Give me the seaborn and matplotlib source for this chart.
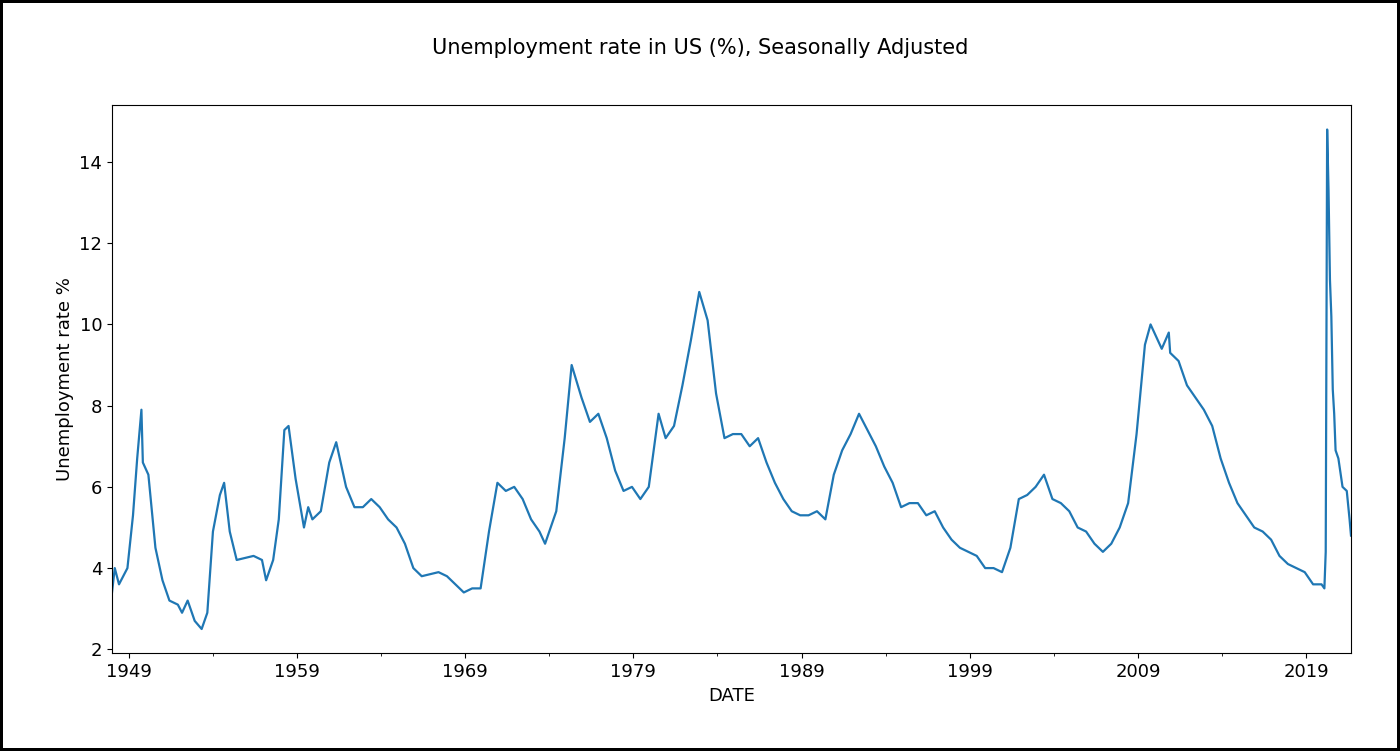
import matplotlib
matplotlib.use("Agg")
import matplotlib.pyplot as plt
import matplotlib.dates as mdates
import seaborn as sb
import pandas as pd

dates = ["1948-01","1948-03","1948-06","1948-12","1949-04","1949-07","1949-10","1949-11","1950-03","1950-08",
 "1951-01","1951-06","1951-12","1952-03","1952-07","1952-12","1953-05","1953-09","1954-01","1954-06","1954-09",
 "1955-01","1955-06","1956-06","1956-12","1957-03","1957-08","1957-12","1958-04","1958-07","1958-12","1959-06",
 "1959-09","1959-12","1960-06","1960-12","1961-05","1961-12","1962-06","1962-12","1963-06","1963-12","1964-06",
 "1964-12","1965-06","1965-12","1966-06","1967-06","1967-12","1968-06","1968-12","1969-06","1969-12","1970-06",
 "1970-12","1971-06","1971-12","1972-06","1972-12","1973-06","1973-10","1974-06","1974-12","1975-05","1975-12",
 "1976-06","1976-12","1977-06","1977-12","1978-06","1978-12","1979-06","1979-12","1980-07","1980-12","1981-06",
 "1981-12","1982-06","1982-12","1983-06","1983-12","1984-06","1984-12","1985-06","1985-12","1986-06","1986-12",
 "1987-06","1987-12","1988-06","1988-12","1989-06","1989-12","1990-06","1990-12","1991-06","1991-12","1992-06",
 "1992-12","1993-06","1993-12","1994-06","1994-12","1995-06","1995-12","1996-06","1996-12","1997-06","1997-12",
 "1998-06","1998-12","1999-06","1999-12","2000-06","2000-12","2001-06","2001-12","2002-06","2002-12","2003-06",
 "2003-12","2004-06","2004-12","2005-06","2005-12","2006-06","2006-12","2007-06","2007-12","2008-06","2008-12",
 "2009-06","2009-10","2010-06","2010-11","2010-12","2011-06","2011-12","2012-06","2012-12","2013-06","2013-12",
 "2014-06","2014-12","2015-06","2015-12","2016-06","2016-12","2017-06","2017-12","2018-06","2018-12","2019-06",
 "2019-12","2020-02","2020-03","2020-04","2020-05","2020-06","2020-07","2020-08","2020-09","2020-10","2020-12",
 "2021-03","2021-06","2021-08","2021-09"]
rate = [3.4,4.0,3.6,4.0,5.3,6.7,7.9,6.6,6.3,4.5,
 3.7,3.2,3.1,2.9,3.2,2.7,2.5,2.9,4.9,5.8,6.1,
 4.9,4.2,4.3,4.2,3.7,4.2,5.2,7.4,7.5,6.2,5.0,
 5.5,5.2,5.4,6.6,7.1,6.0,5.5,5.5,5.7,5.5,5.2,
 5.0,4.6,4.0,3.8,3.9,3.8,3.6,3.4,3.5,3.5,4.9,
 6.1,5.9,6.0,5.7,5.2,4.9,4.6,5.4,7.2,9.0,8.2,
 7.6,7.8,7.2,6.4,5.9,6.0,5.7,6.0,7.8,7.2,7.5,
 8.5,9.6,10.8,10.1,8.3,7.2,7.3,7.3,7.0,7.2,6.6,
 6.1,5.7,5.4,5.3,5.3,5.4,5.2,6.3,6.9,7.3,7.8,
 7.4,7.0,6.5,6.1,5.5,5.6,5.6,5.3,5.4,5.0,4.7,
 4.5,4.4,4.3,4.0,4.0,3.9,4.5,5.7,5.8,6.0,6.3,
 5.7,5.6,5.4,5.0,4.9,4.6,4.4,4.6,5.0,5.6,7.3,
 9.5,10.0,9.4,9.8,9.3,9.1,8.5,8.2,7.9,7.5,6.7,
 6.1,5.6,5.3,5.0,4.9,4.7,4.3,4.1,4.0,3.9,3.6,
 3.6,3.5,4.4,14.8,13.3,11.1,10.2,8.4,7.8,6.9,6.7,
 6.0,5.9,5.2,4.8]
tick_years = [1949, 1959, 1969, 1979, 1989, 1999, 2009, 2019]
minor_years = [1954, 1964, 1974, 1984, 1994, 2004, 2014]

df = pd.DataFrame({"DATE": pd.to_datetime(dates), "rate": rate})

fig, ax = plt.subplots(figsize=(14, 7.51), dpi=100)
fig.patch.set_edgecolor("black")
fig.patch.set_linewidth(3)
sb.lineplot(data=df, x="DATE", y="rate", ax=ax, color="#1f77b4", linewidth=1.6)
ax.set_xlim(pd.Timestamp("1948-01-01"), pd.Timestamp("2021-09-01"))
ax.set_ylim(1.9, 15.4)
ax.set_yticks([2, 4, 6, 8, 10, 12, 14])
ax.set_xticks([pd.Timestamp(f"{y}-01-01") for y in tick_years])
ax.set_xticks([pd.Timestamp(f"{y}-01-01") for y in minor_years], minor=True)
ax.xaxis.set_major_formatter(mdates.DateFormatter("%Y"))
ax.tick_params(labelsize=13)
ax.set_xlabel("DATE", fontsize=13)
ax.set_ylabel("Unemployment rate %", fontsize=13)
fig.suptitle("Unemployment rate in US (%), Seasonally Adjusted", fontsize=15, y=0.95)
fig.subplots_adjust(left=0.08, right=0.965, top=0.86, bottom=0.13)
fig.savefig("out.png", dpi=100, edgecolor=fig.get_edgecolor())
